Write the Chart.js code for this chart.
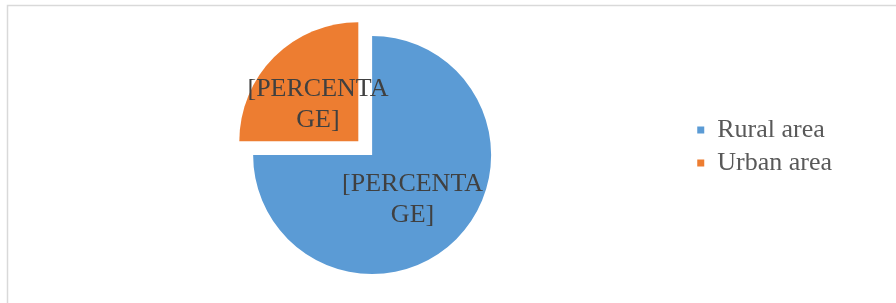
<!DOCTYPE html>
<html>
<head>
<meta charset="utf-8">
<script src="https://cdn.jsdelivr.net/npm/chart.js@4/dist/chart.umd.min.js"></script>
<style>
  html, body { margin: 0; padding: 0; background: #fff; }
</style>
</head>
<body>
<canvas id="chart-area" width="896" height="303"></canvas>
<script>
const categories = ['Rural area', 'Urban area'];
const shares = [75, 25];
const sliceColors = ['#5B9BD5', '#ED7D31'];
const sliceOffsets = [0, 78];
const labelLines = ['[PERCENTA', 'GE]'];

// light frame around the picture (only top and left edges are visible)
const frame = {
  id: 'frame',
  beforeDraw(chart) {
    const ctx = chart.ctx;
    ctx.save();
    ctx.strokeStyle = '#d9d9d9';
    ctx.lineWidth = 1.5;
    ctx.strokeRect(7.5, 5.5, 2000, 2000);
    ctx.restore();
  },
};

// placeholder labels in the middle of each slice
const sliceLabels = {
  id: 'sliceLabels',
  afterDatasetsDraw(chart) {
    const ctx = chart.ctx;
    const meta = chart.getDatasetMeta(0);
    ctx.save();
    ctx.font = '26px "Liberation Serif", "Times New Roman", serif';
    ctx.fillStyle = '#404040';
    ctx.textAlign = 'center';
    ctx.textBaseline = 'middle';
    const lineHeight = 31;
    meta.data.forEach((arc) => {
      const mid = (arc.startAngle + arc.endAngle) / 2;
      const dist = (arc.options.offset || 0) / 4 + arc.outerRadius * 0.48;
      const x = arc.x + Math.cos(mid) * dist;
      const y = arc.y + Math.sin(mid) * dist + 4;
      const top = y - ((labelLines.length - 1) * lineHeight) / 2;
      labelLines.forEach((line, i) => {
        ctx.fillText(line, x, top + i * lineHeight);
      });
    });
    ctx.restore();
  },
};

const chart = new Chart(document.getElementById('chart-area'), {
  type: 'pie',
  data: {
    labels: categories,
    datasets: [
      {
        data: shares,
        backgroundColor: sliceColors,
        borderWidth: 0,
        offset: sliceOffsets,
        radius: 119,
        clip: false,
      },
    ],
  },
  options: {
    responsive: false,
    animation: false,
    layout: {
      padding: { left: 54, right: 54, top: 110, bottom: 103 },
    },
    plugins: {
      tooltip: { enabled: false },
      legend: {
        position: 'right',
        align: 'start',
        labels: {
          boxWidth: 7,
          boxHeight: 7,
          padding: 7,
          color: '#595959',
          font: { family: '"Liberation Serif", "Times New Roman", serif', size: 26 },
        },
      },
    },
  },
  plugins: [frame, sliceLabels],
});
</script>
</body>
</html>
